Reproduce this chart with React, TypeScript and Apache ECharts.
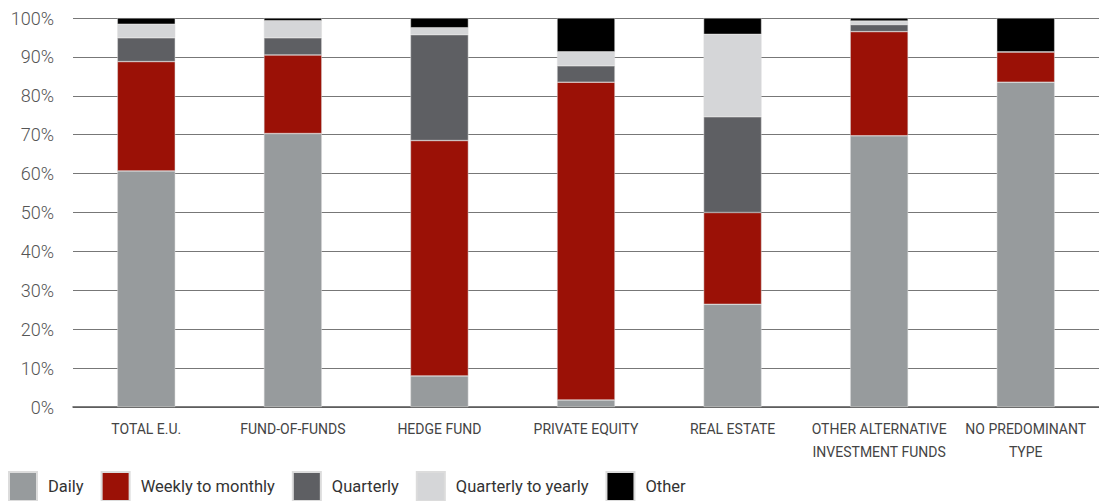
import React, { useEffect, useRef } from "react";
import * as echarts from "echarts";

const categories = [
  "TOTAL E.U.",
  "FUND-OF-FUNDS",
  "HEDGE FUND",
  "PRIVATE EQUITY",
  "REAL ESTATE",
  "OTHER ALTERNATIVE\nINVESTMENT FUNDS",
  "NO PREDOMINANT\nTYPE",
];

const daily = [60.7, 70.3, 8.0, 1.8, 26.4, 69.7, 83.5];
const weeklyToMonthly = [28.1, 20.2, 60.5, 81.7, 23.6, 26.8, 7.8];
const quarterly = [6.1, 4.4, 27.2, 4.2, 24.6, 1.8, 0];
const quarterlyToYearly = [3.5, 4.4, 1.8, 3.6, 21.2, 0.9, 0];
const other = [1.6, 0.7, 2.5, 8.7, 4.2, 0.8, 8.7];

const seriesNames = ["Daily", "Weekly to monthly", "Quarterly", "Quarterly to yearly", "Other"];
const seriesData = [daily, weeklyToMonthly, quarterly, quarterlyToYearly, other];
const colors = ["#979b9d", "#9b1106", "#5e5f63", "#d5d6d8", "#000000"];

const labelFont = "Roboto, sans-serif";

export default function App() {
  const ref = useRef<HTMLDivElement>(null);
  useEffect(() => {
    document.body.style.margin = "0";
    const chart = echarts.init(ref.current!, null, { renderer: "svg" });
    chart.setOption({
      animation: false,
      color: colors,
      grid: { left: 73, right: -4, top: 18, bottom: 94, containLabel: false },
      legend: {
        left: 3,
        top: 466,
        itemWidth: 28,
        itemHeight: 29,
        itemGap: 17,
        icon: "rect",
        data: seriesNames,
        textStyle: {
          fontFamily: labelFont,
          fontSize: 16.5,
          color: "#333",
          padding: [5, 0, 0, 6],
        },
      },
      xAxis: {
        type: "category",
        data: categories,
        axisLine: { lineStyle: { color: "#555", width: 1.5 } },
        axisTick: { show: false },
        axisLabel: {
          fontFamily: labelFont,
          fontSize: 14,
          color: "#444",
          margin: 10,
          lineHeight: 23,
          interval: 0,
        },
      },
      yAxis: {
        type: "value",
        min: 0,
        max: 100,
        interval: 10,
        axisLine: { show: false },
        axisTick: { show: false },
        splitLine: { lineStyle: { color: "#777", width: 1 } },
        axisLabel: {
          formatter: "{value}%",
          fontFamily: labelFont,
          fontWeight: 300,
          fontSize: 18,
          color: "#555",
          margin: 19,
        },
      },
      series: seriesNames.map((name, i) => ({
        name,
        type: "bar",
        stack: "total",
        barWidth: "39.5%",
        data: seriesData[i],
        itemStyle: { color: colors[i], borderColor: "#dcdcdc", borderWidth: 0.5 },
      })),
    });
    return () => chart.dispose();
  }, []);
  return <div ref={ref} style={{ width: 1099, height: 501 }} />;
}
